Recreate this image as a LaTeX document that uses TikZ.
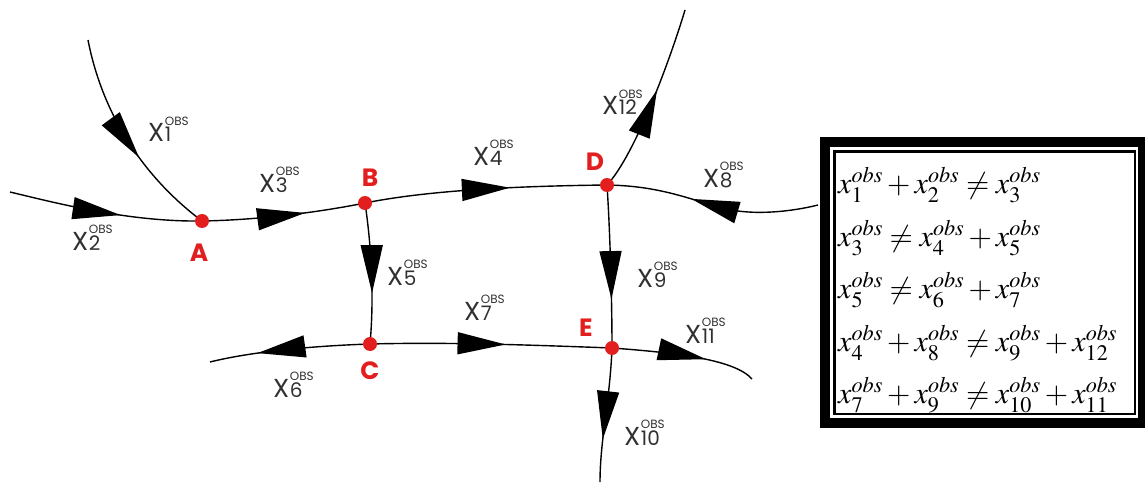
\documentclass[tikz,border=0pt]{standalone}
\usepackage{mathptmx}
\usepackage{fontspec}
\newfontfamily\labfont{Poppins}
\usetikzlibrary{arrows.meta,decorations.markings}
\definecolor{nodered}{HTML}{E21E1E}
\definecolor{labgray}{HTML}{303030}
\newcommand{\Xl}[1]{{\labfont\fontsize{26}{26}\selectfont X\kern0.5pt\shortstack[l]{\fontsize{12}{12}\selectfont OBS\\[-1pt]\fontsize{20}{20}\selectfont #1}}}
\tikzset{
  flow/.style={line width=1.4pt, black},
  midarrow/.style={postaction={decorate}, decoration={markings, mark=at position #1 with {\arrow{Triangle[length=48pt,width=22pt]}}}},
  junction/.style={fill=nodered},
  jlabel/.style={text=nodered, font=\labfont\bfseries\fontsize{25}{25}\selectfont, inner sep=0pt},
  flowlabel/.style={text=labgray, anchor=base west, inner sep=0pt},
  eqrow/.style={anchor=base west, inner sep=0pt, font=\fontsize{30}{37}\selectfont}
}
\begin{document}
\begin{tikzpicture}[x=1pt,y=-1pt]
\useasboundingbox (0,0) rectangle (1145,484);
% junction coordinates
\coordinate (A) at (202,221);
\coordinate (B) at (365,203);
\coordinate (C) at (370,344);
\coordinate (D) at (607,185);
\coordinate (E) at (612,348);
% free ends
\coordinate (s1) at (88,40);
\coordinate (s2) at (10,192);
\coordinate (e6) at (210,362);
\coordinate (s8) at (818,205);
\coordinate (e10) at (600,482);
\coordinate (e11) at (752,379);
\coordinate (e12) at (685,10);
% flows
\draw[flow, midarrow=0.59] (s1) .. controls (104,122) and (150,182) .. (A);
\draw[flow, midarrow=0.58] (s2) .. controls (60,204) and (130,222) .. (A);
\draw[flow, midarrow=0.63] (A) .. controls (260,220) and (320,212) .. (B);
\draw[flow, midarrow=0.60] (B) .. controls (430,190) and (520,186) .. (D);
\draw[flow, midarrow=0.64] (B) .. controls (372,250) and (374,300) .. (C);
\draw[flow, midarrow=0.70] (C) .. controls (310,346) and (250,352) .. (e6);
\draw[flow, midarrow=0.56] (C) .. controls (450,342) and (530,345) .. (E);
\draw[flow, midarrow=0.6] (s8) .. controls (790,212) and (760,214) .. (738,211) .. controls (700,205) and (670,186) .. (D);
\draw[flow, midarrow=0.70] (D) .. controls (610,230) and (612,300) .. (E);
\draw[flow, midarrow=0.68] (E) .. controls (610,400) and (600,440) .. (e10);
\draw[flow, midarrow=0.65] (E) .. controls (680,353) and (735,360) .. (e11);
\draw[flow, midarrow=0.56] (D) .. controls (635,155) and (670,60) .. (e12);
% junction dots
\foreach \j in {A,B,C,D,E} \fill[junction] (\j) circle (7pt);
\node[jlabel] (lA) at (199,253) {A};
\node[jlabel] (lB) at (370,178) {B};
\node[jlabel] (lC) at (370,371) {C};
\node[jlabel] (lD) at (595,162) {D};
\node[jlabel] (lE) at (586,328) {E};
% flow labels
\node[flowlabel] (x1) at (148,142) {\Xl{1}};
\node[flowlabel] (x2) at (72,250) {\Xl{2}};
\node[flowlabel] (x3) at (259,192) {\Xl{3}};
\node[flowlabel] (x4) at (473,165) {\Xl{4}};
\node[flowlabel] (x5) at (387,285) {\Xl{5}};
\node[flowlabel] (x6) at (273,397) {\Xl{6}};
\node[flowlabel] (x7) at (464,320) {\Xl{7}};
\node[flowlabel] (x8) at (703,187) {\Xl{8}};
\node[flowlabel] (x9) at (637,287) {\Xl{9}};
\node[flowlabel] (x10) at (624,445) {\Xl{10}};
\node[flowlabel] (x11) at (685,343) {\Xl{11}};
\node[flowlabel] (x12) at (602,115) {\Xl{12}};
% equation box
\fill[black] (820,137) rectangle (1150,428);
\fill[white] (830,147) rectangle (1138,418);
\draw[line width=2.5pt] (834.25,151.25) rectangle (1134.75,413.75);
\node[eqrow] (eq1) at (838,193) {$x_1^{obs}+x_2^{obs}\neq x_3^{obs}$};
\node[eqrow] (eq2) at (838,246) {$x_3^{obs}\neq x_4^{obs}+x_5^{obs}$};
\node[eqrow] (eq3) at (838,298) {$x_5^{obs}\neq x_6^{obs}+x_7^{obs}$};
\node[eqrow] (eq4) at (838,351) {$x_4^{obs}+x_8^{obs}\neq x_9^{obs}+x_{12}^{obs}$};
\node[eqrow] (eq5) at (838,403) {$x_7^{obs}+x_9^{obs}\neq x_{10}^{obs}+x_{11}^{obs}$};
\end{tikzpicture}
\end{document}
